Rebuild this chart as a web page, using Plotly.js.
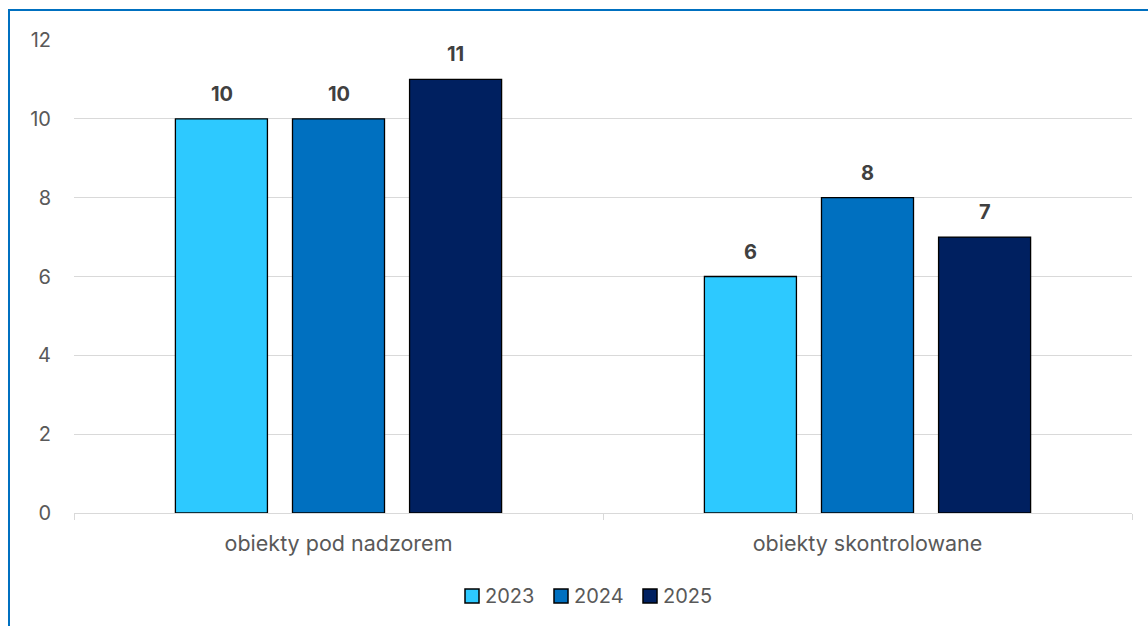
<!DOCTYPE html>
<html>
<head>
<meta charset="utf-8">
<script src="https://cdn.plot.ly/plotly-3.0.1.min.js"></script>
<style>
html,body{margin:0;padding:0;background:#fff;overflow:hidden;}
#wrap{position:relative;width:1148px;height:626px;}
#chart{position:absolute;left:0;top:0;width:1148px;height:626px;}
#frame{position:absolute;left:8px;top:9px;width:1200px;height:700px;border-left:2px solid #0070C0;border-top:2px solid #0070C0;pointer-events:none;}
</style>
</head>
<body>
<div id="wrap"><div id="chart"></div><div id="frame"></div></div>
<script>
const categories = ["obiekty pod nadzorem", "obiekty skontrolowane"];
const seriesNames = ["2023", "2024", "2025"];
const values2023 = [10, 6];
const values2024 = [10, 8];
const values2025 = [11, 7];
const colors = ["#2DC9FF", "#0070C0", "#002060"];
const yTicks = [0, 2, 4, 6, 8, 10, 12];

const FONT = "Inter, 'Open Sans', sans-serif";
const M = {l: 74, r: 16, t: 40, b: 113};
const W = 1148, H = 626;
const plotW = W - M.l - M.r, plotH = H - M.t - M.b;
const px2x = p => (p - M.l) / plotW;
const px2y = p => (H - M.b - p) / plotH;

const allValues = [values2023, values2024, values2025];
const traces = allValues.map((vals, i) => ({
  type: "bar",
  name: seriesNames[i],
  x: categories,
  y: vals,
  marker: {color: colors[i], line: {color: "#000000", width: 1.3}},
  showlegend: false,
  hoverinfo: "none"
}));

// data labels above bars (offset per series within a group)
const slotPx = 117;
const annotations = [];
allValues.forEach((vals, i) => {
  vals.forEach((v, j) => {
    annotations.push({
      x: categories[j], y: v, xref: "x", yref: "y",
      xshift: (i - 1) * slotPx, yshift: 25,
      text: "<b>" + v + "</b>", showarrow: false,
      font: {family: FONT, size: 20, color: "#404040"},
      xanchor: "center", yanchor: "middle"
    });
  });
});

// legend (squares + labels)
const shapes = [];
const legendSq = [465, 554, 643];
seriesNames.forEach((name, i) => {
  const x0 = legendSq[i];
  shapes.push({
    type: "rect", xref: "paper", yref: "paper",
    x0: px2x(x0), x1: px2x(x0 + 14), y0: px2y(603), y1: px2y(589),
    fillcolor: colors[i], line: {color: "#000000", width: 1.5}
  });
  annotations.push({
    xref: "paper", yref: "paper", x: px2x(x0 + 18), y: px2y(596),
    text: name, showarrow: false, xanchor: "left", yanchor: "middle",
    font: {family: FONT, size: 20, color: "#595959"}
  });
});

const layout = {
  width: W, height: H,
  margin: M,
  paper_bgcolor: "#ffffff", plot_bgcolor: "#ffffff",
  font: {family: FONT, size: 20, color: "#595959"},
  barmode: "group",
  bargap: 0.336,
  bargroupgap: 0.214,
  showlegend: false,
  annotations: annotations,
  shapes: shapes,
  xaxis: {
    type: "category",
    showline: true, linecolor: "#d9d9d9", linewidth: 1.3,
    ticks: "outside", tickson: "boundaries", ticklen: 6, tickcolor: "#d9d9d9",
    ticklabelstandoff: 11,
    tickfont: {family: FONT, size: 21.5, color: "#595959"},
    showgrid: false, fixedrange: true
  },
  yaxis: {
    range: [0, 12],
    tickvals: yTicks,
    ticktext: yTicks.map(String),
    showgrid: true, gridcolor: "#d9d9d9", gridwidth: 1.3,
    zeroline: false, showline: false, ticks: "",
    ticklabelstandoff: 22,
    tickfont: {family: FONT, size: 20, color: "#595959"},
    fixedrange: true
  }
};

Plotly.newPlot("chart", traces, layout, {displayModeBar: false, staticPlot: true});
</script>
</body>
</html>
